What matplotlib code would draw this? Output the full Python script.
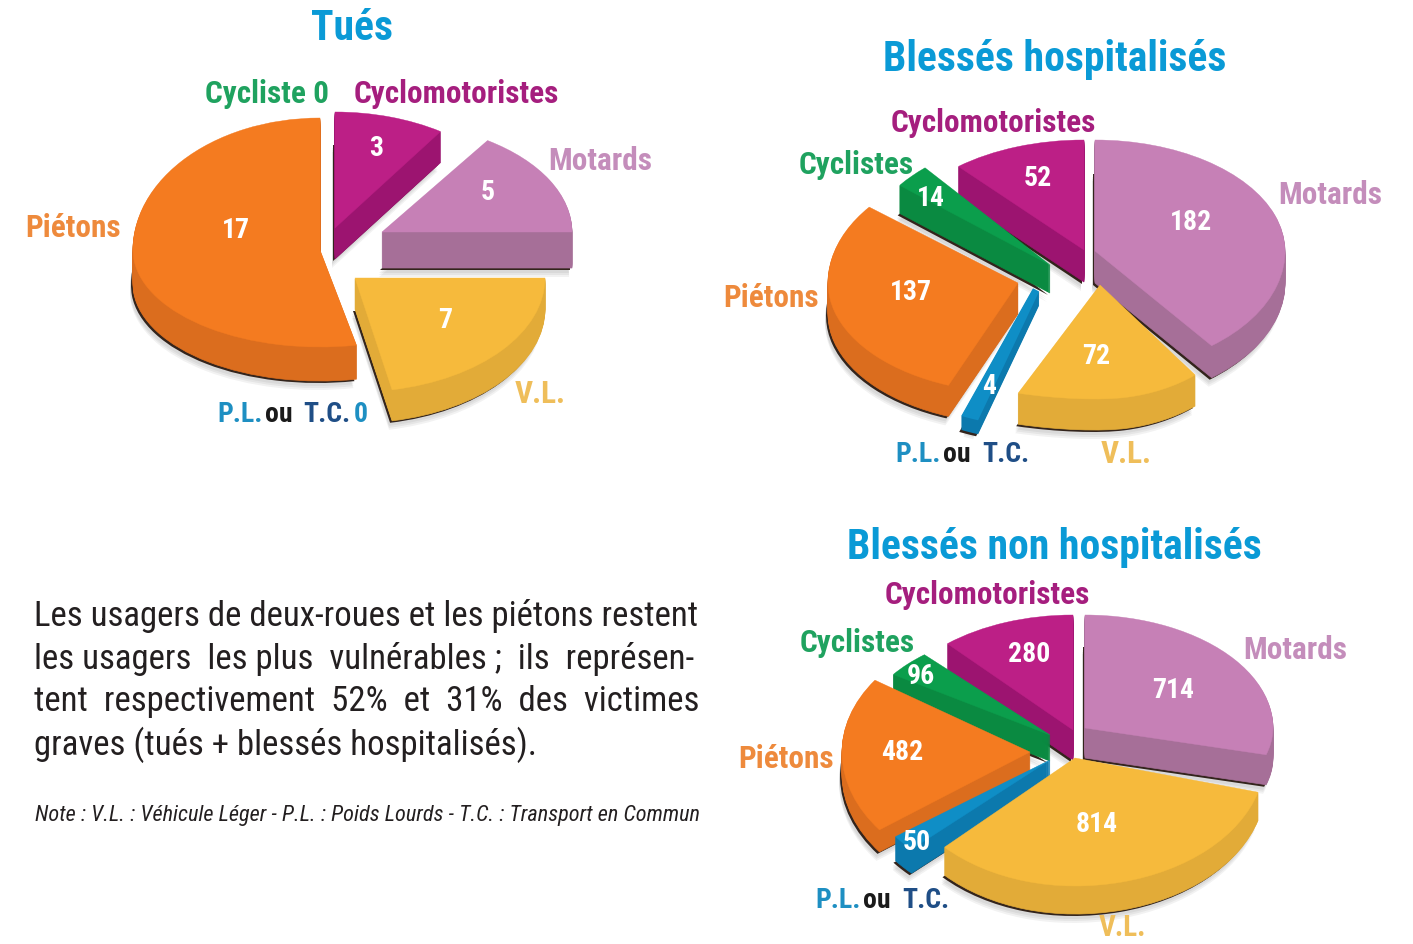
import matplotlib
matplotlib.use("Agg")
import matplotlib.pyplot as plt
import numpy as np
from matplotlib.patches import Wedge
from matplotlib.transforms import Transform

# ---------- data (clockwise from 12 o'clock) ----------
cats_tues = ["Cyclomotoristes", "Motards", "V.L.", "P.L.", "Piétons", "Cyclistes"]
vals_tues = [3, 5, 7, 0, 17, 0]
cats_hosp = ["Motards", "V.L.", "P.L.", "Piétons", "Cyclistes", "Cyclomotoristes"]
vals_hosp = [182, 72, 4, 137, 14, 52]
cats_nonh = ["Motards", "V.L.", "P.L.", "Piétons", "Cyclistes", "Cyclomotoristes"]
vals_nonh = [714, 814, 50, 482, 96, 280]

title_tues = "Tués"
title_hosp = "Blessés hospitalisés"
title_nonh = "Blessés non hospitalisés"
body_lines = ["Les usagers de deux-roues et les piétons restent",
              "les usagers  les plus  vulnérables ;  ils  représen-",
              "tent  respectivement  52%  et  31%  des  victimes",
              "graves (tués + blessés hospitalisés)."]
note_line = "Note : V.L. : Véhicule Léger - P.L. : Poids Lourds - T.C. : Transport en Commun"

# ---------- styles ----------
top_col = {"Cyclomotoristes": "#BC1F86", "Motards": "#C680B6", "V.L.": "#F6BA3C",
           "P.L.": "#0F8EC6", "Piétons": "#F47B20", "Cyclistes": "#0B9E4C"}
side_col = {"Cyclomotoristes": "#9C1470", "Motards": "#A66F98", "V.L.": "#E2AB38",
            "P.L.": "#0C79AD", "Piétons": "#DB6D1E", "Cyclistes": "#0A8A41"}
lab_col = {"Cyclomotoristes": "#A51E7E", "Motards": "#C48DBB", "V.L.": "#EFBE5A",
           "Piétons": "#EE8A3C", "Cyclistes": "#1FA25F"}
TITLE = "#0A9AD6"

narrow = ["Roboto Condensed", "Liberation Sans"]

# per-wedge placement: apex x, apex y, rx, ry above, ry below, depth, z, extra edge, rx left of apex
geo_tues = {"Cyclomotoristes": (335, 228, 190, 116, 116, 31, 2, 0, 190),
            "Motards": (382, 232, 190, 110, 110, 36, 3, 0, 190),
            "V.L.": (355, 278, 190, 114, 114, 31, 4, 0, 190),
            "P.L.": (350, 270, 190, 110, 110, 30, 1, 0, 190),
            "Piétons": (320, 250, 187, 132, 97, 34, 1, 0, 187),
            "Cyclistes": (325, 230, 190, 110, 110, 30, 1, 0, 190)}
geo_hosp = {"Motards": (1095, 251, 190, 111, 120, 32, 2, 0, 190),
            "V.L.": (1100, 285, 155, 114, 114, 31, 4, 0, 260),
            "P.L.": (1036, 290, 190, 133, 133, 14, 5, 5, 190),
            "Piétons": (1018, 283, 190, 122, 110, 31, 3, 0, 190),
            "Cyclistes": (1050, 265, 192, 128, 128, 28, 2, 0, 192),
            "Cyclomotoristes": (1084, 250, 193, 110, 110, 32, 1, 0, 193)}
geo_nonh = {"Motards": (1085, 728, 188, 113, 100, 30, 1, 0, 188),
            "V.L.": (1075, 758, 190, 128, 128, 28, 5, 0, 182),
            "P.L.": (1050, 760, 193, 128, 128, 24, 4, 0, 193),
            "Piétons": (1030, 752, 188, 127, 130, 22, 3, 0, 188),
            "Cyclistes": (1050, 735, 190, 107, 107, 26, 2, 0, 190),
            "Cyclomotoristes": (1073, 730, 190, 115, 115, 30, 1, 0, 190)}

pos_tues = {"Cyclomotoristes": (376, 147), "Motards": (488, 192), "V.L.": (445, 319), "Piétons": (236, 230)}
pos_hosp = {"Motards": (1191, 222), "V.L.": (1096, 356), "P.L.": (989, 385), "Piétons": (911, 292),
            "Cyclistes": (931, 197), "Cyclomotoristes": (1038, 177)}
pos_nonh = {"Motards": (1173, 690), "V.L.": (1097, 823), "P.L.": (917, 842), "Piétons": (902, 752),
            "Cyclistes": (921, 675), "Cyclomotoristes": (1029, 654)}


class Warp(Transform):
    """Unit-circle wedge -> page pixels, with different radii either side of the apex."""
    input_dims = 2
    output_dims = 2
    is_separable = True

    def __init__(self, ax_, ay, rx, up, dn, rxl):
        super().__init__()
        self.p = (ax_, ay, rx, up, dn, rxl)

    def transform_non_affine(self, v):
        v = np.asarray(v, float)
        a, b, rx, up, dn, rxl = self.p
        x, y = v[:, 0], v[:, 1]
        return np.column_stack([a + np.where(x > 0, rx, rxl) * x, b - np.where(y > 0, up, dn) * y])


fig = plt.figure(figsize=(14.13, 9.44), dpi=100, facecolor="white")
ax = fig.add_axes([0, 0, 1, 1])


def draw_pie(cats, vals, geo, pos, startangle=90):
    wedges, _ = ax.pie(vals, startangle=startangle, counterclock=False, radius=1)
    for w, c, v in zip(wedges, cats, vals):
        if v == 0:
            w.set_visible(False)
            continue
        a, b, rx, up, dn, d, z, extra, rxl = geo[c]
        zb = 10 * z
        th = (w.theta1, w.theta2)
        for off in (d + 9, d + 7, d + 5):  # soft drop shadow
            s = ax.add_patch(Wedge((0, 0), 1, *th, fc="#000000", ec="none", alpha=0.05, zorder=zb))
            s.set_transform(Warp(a - 3, b + off, rx, up, dn, rxl) + ax.transData)
        s = ax.add_patch(Wedge((0, 0), 1, *th, fc="#33241c", ec="#33241c", lw=extra, zorder=zb + 1))
        s.set_transform(Warp(a - 2, b + d + 2, rx, up, dn, rxl) + ax.transData)
        for off in range(d, 0, -1):
            s = ax.add_patch(Wedge((0, 0), 1, *th, fc=side_col[c], ec=side_col[c], lw=max(extra, 0.5), zorder=zb + 2))
            s.set_transform(Warp(a, b + off, rx, up, dn, rxl) + ax.transData)
        w.set(facecolor=top_col[c], edgecolor=top_col[c], linewidth=max(extra, 0.3), zorder=zb + 3)
        w.set_transform(Warp(a, b, rx, up, dn, rxl) + ax.transData)
        if c in pos:
            ax.text(pos[c][0], pos[c][1] + 1, str(v), color="white", ha="center", va="center", family=narrow,
                    fontweight="bold", fontsize=20, zorder=200)


draw_pie(cats_tues, vals_tues, geo_tues, pos_tues)
draw_pie(cats_hosp, vals_hosp, geo_hosp, pos_hosp)
draw_pie(cats_nonh, vals_nonh, geo_nonh, pos_nonh)

ax.set_aspect("auto")
ax.set_xlim(0, 1413)
ax.set_ylim(944, 0)
ax.axis("off")


def T(x, y, s, color, size=22.5, ha="center", **kw):
    kw.setdefault("fontweight", "bold")
    kw.setdefault("family", narrow)
    ax.text(x, y + 2, s, color=color, fontsize=size, ha=ha, va="center", zorder=300, **kw)


# titles
T(352, 27, title_tues, TITLE, 30)
T(1055, 57, title_hosp, TITLE, 30)
T(1054, 545, title_nonh, TITLE, 30)

# category labels
T(267, 92, "Cycliste 0", lab_col["Cyclistes"])
T(456, 92, "Cyclomotoristes", lab_col["Cyclomotoristes"])
T(600, 159, "Motards", lab_col["Motards"])
T(73, 226, "Piétons", lab_col["Piétons"])
T(540, 392, "V.L.", lab_col["V.L."])

T(993, 121, "Cyclomotoristes", lab_col["Cyclomotoristes"])
T(856, 163, "Cyclistes", lab_col["Cyclistes"])
T(1330, 193, "Motards", lab_col["Motards"])
T(771, 296, "Piétons", lab_col["Piétons"])
T(1126, 452, "V.L.", lab_col["V.L."])

T(987, 593, "Cyclomotoristes", lab_col["Cyclomotoristes"])
T(857, 641, "Cyclistes", lab_col["Cyclistes"])
T(1295, 648, "Motards", lab_col["Motards"])
T(786, 757, "Piétons", lab_col["Piétons"])
T(1122, 926, "V.L.", lab_col["V.L."], 21)

BL, DK = "#1E8FC2", "#1F4E86"
for x, y, s, c in [(217, 412, "P.L.", BL), (265, 412, "ou", "#1a1a1a"), (303, 412, "T.C.", DK), (354, 412, "0", BL),
                   (895, 453, "P.L.", BL), (943, 453, "ou", "#1a1a1a"), (982, 453, "T.C.", DK),
                   (815, 898, "P.L.", BL), (863, 898, "ou", "#1a1a1a"), (902, 898, "T.C.", DK)]:
    T(x, y, s, c, size=20, ha="left")

# body
for y, line in zip((614, 657, 700, 743), body_lines):
    T(34, y, line, "#231f20", 25, ha="left", fontweight="normal")
T(35, 813, note_line, "#231f20", 16, ha="left", fontweight="normal", style="italic")

fig.savefig("out.png", dpi=100, facecolor="white")
